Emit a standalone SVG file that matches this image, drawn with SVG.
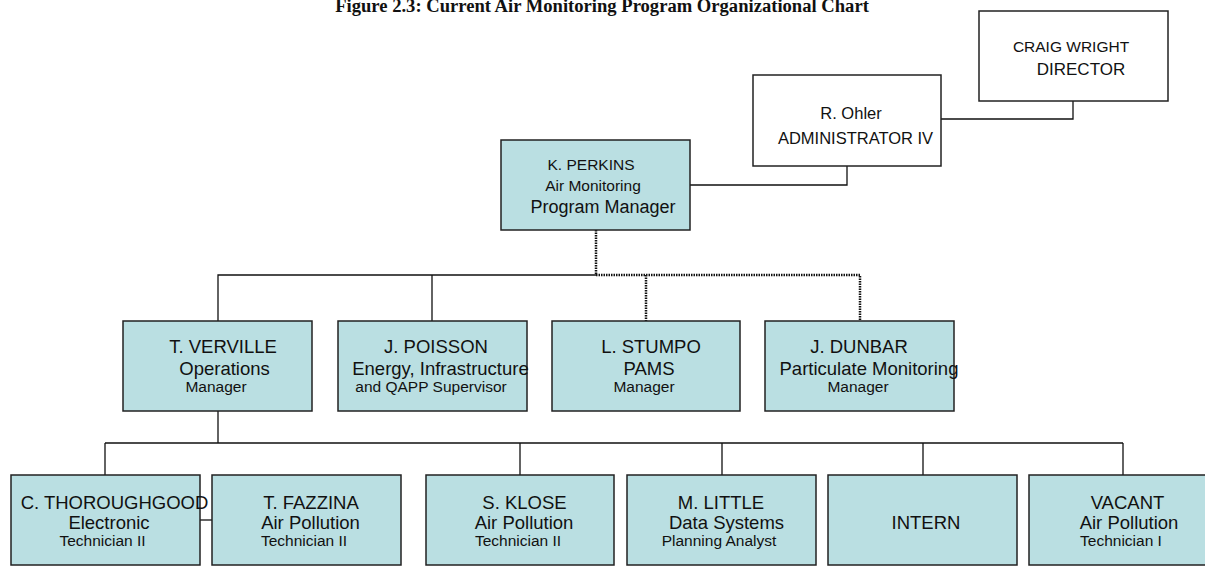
<svg xmlns="http://www.w3.org/2000/svg" width="1205" height="566" viewBox="0 0 1205 566">
<style>
.box{fill:#badfe2;stroke:#222;stroke-width:1.5}
.wbox{fill:#fff;stroke:#222;stroke-width:1.5}
text{font-family:"Liberation Sans",Arial,sans-serif;fill:#111;text-anchor:middle}
.a{font-size:18.5px}
.b{font-size:15.5px}
.c{font-size:16.5px}
.title{font-family:"Liberation Serif","Times New Roman",serif;font-weight:bold;font-size:18.6px}
.ln{fill:none;stroke:#111;stroke-width:1.3}
.dt{fill:none;stroke:#111;stroke-width:2.5;stroke-dasharray:1.5 1}
</style>
<rect width="1205" height="566" fill="#fff"/>
<text class="title" x="602" y="12">Figure 2.3: Current Air Monitoring Program Organizational Chart</text>
<g id="connectors">
<path class="ln" d="M941,119 H1073 V101"/>
<path class="ln" d="M847,166 V185 H690"/>
<path class="dt" d="M596,230 V275"/>
<path class="ln" d="M596,275 H218 V321 M432,275 V321"/>
<path class="dt" d="M596,275 H860 V321 M646,275 V321"/>
<path class="ln" d="M218,411 V443 M105,443 H1123 M105,443 V475 M520,443 V475 M722,443 V475 M923,443 V475 M1123,443 V475"/>
<path class="ln" d="M200,520 H212"/>
</g>
<g id="craig">
<rect class="wbox" x="979" y="11" width="189" height="90"/>
<text class="c" style="font-size:15.5px" x="1071" y="52">CRAIG WRIGHT</text>
<text class="c" style="font-size:17px" x="1081" y="75">DIRECTOR</text>
</g>
<g id="ohler">
<rect class="wbox" x="753" y="75" width="188" height="91"/>
<text class="c" x="851" y="119">R. Ohler</text>
<text class="c" x="855.5" y="144">ADMINISTRATOR IV</text>
</g>
<g id="perkins">
<rect class="box" x="501" y="140" width="189" height="90"/>
<text style="font-size:15.5px" x="591" y="170">K. PERKINS</text>
<text style="font-size:15.5px" x="593" y="190.5">Air Monitoring</text>
<text style="font-size:18px" x="603" y="213">Program Manager</text>
</g>
<g id="verville">
<rect class="box" x="123" y="321" width="189" height="90"/>
<text class="a" x="223" y="353">T. VERVILLE</text>
<text class="a" x="224.5" y="375">Operations</text>
<text class="b" x="216" y="391.5">Manager</text>
</g>
<g id="poisson">
<rect class="box" x="338" y="321" width="189" height="90"/>
<text class="a" x="436" y="353">J. POISSON</text>
<text class="a" x="440.5" y="375">Energy, Infrastructure</text>
<text class="b" x="431" y="391.5">and QAPP Supervisor</text>
</g>
<g id="stumpo">
<rect class="box" x="552" y="321" width="188" height="90"/>
<text class="a" x="651" y="353">L. STUMPO</text>
<text class="a" x="649" y="375">PAMS</text>
<text class="b" x="644" y="391.5">Manager</text>
</g>
<g id="dunbar">
<rect class="box" x="765" y="321" width="189" height="90"/>
<text class="a" x="859" y="353">J. DUNBAR</text>
<text class="a" x="869" y="375">Particulate Monitoring</text>
<text class="b" x="858" y="391.5">Manager</text>
</g>
<g id="thoroughgood">
<rect class="box" x="11" y="475" width="189" height="90"/>
<text class="a" x="114.5" y="509">C. THOROUGHGOOD</text>
<text class="a" x="109" y="529">Electronic</text>
<text class="b" x="102.5" y="546">Technician II</text>
</g>
<g id="fazzina">
<rect class="box" x="212" y="475" width="189" height="90"/>
<text class="a" x="311" y="509">T. FAZZINA</text>
<text class="a" x="310.5" y="529">Air Pollution</text>
<text class="b" x="304" y="546">Technician II</text>
</g>
<g id="klose">
<rect class="box" x="426" y="475" width="188" height="90"/>
<text class="a" x="524.5" y="509">S. KLOSE</text>
<text class="a" x="524" y="529">Air Pollution</text>
<text class="b" x="518" y="546">Technician II</text>
</g>
<g id="little">
<rect class="box" x="627" y="475" width="189" height="90"/>
<text class="a" x="721" y="509">M. LITTLE</text>
<text class="a" x="726.5" y="529">Data Systems</text>
<text class="b" x="719" y="546">Planning Analyst</text>
</g>
<g id="intern">
<rect class="box" x="828" y="475" width="189" height="90"/>
<text class="a" x="926" y="529">INTERN</text>
</g>
<g id="vacant">
<rect class="box" x="1029" y="475" width="189" height="90"/>
<text class="a" x="1127.5" y="509">VACANT</text>
<text class="a" x="1129" y="529">Air Pollution</text>
<text class="b" x="1121" y="546">Technician I</text>
</g>
</svg>
